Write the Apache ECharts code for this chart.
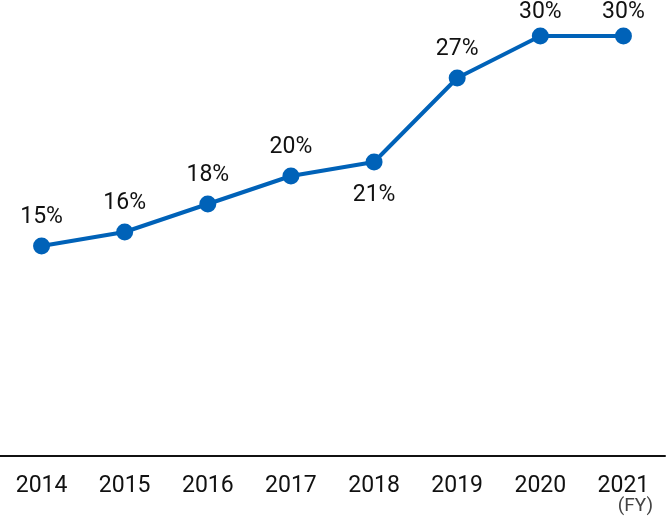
<!DOCTYPE html>
<html>
<head>
<meta charset="utf-8">
<script src="https://cdn.jsdelivr.net/npm/echarts@6/dist/echarts.min.js"></script>
<style>
html,body{margin:0;padding:0;background:#fff;}
#c{width:667px;height:525px;}
</style>
</head>
<body>
<div id="c"></div>
<script>
const categories = ['2014','2015','2016','2017','2018','2019','2020','2021'];
const values = [15,16,18,20,21,27,30,30];
const labelPositions = ['top','top','top','top','bottom','top','top','top'];
const labelDistances = [9,9,9,9,13,9,4,4];

const chart = echarts.init(document.getElementById('c'), null, {renderer:'canvas'});
chart.setOption({
  animation: false,
  grid: {left: 0, right: 2, top: 8, bottom: 69, containLabel: false},
  xAxis: {
    type: 'category',
    data: categories,
    boundaryGap: true,
    axisLine: {show: true, lineStyle: {color: '#111', width: 2}},
    axisTick: {show: false},
    axisLabel: {color: '#111', fontSize: 23, fontFamily: 'Roboto', margin: 19}
  },
  yAxis: {
    type: 'value',
    min: 0,
    max: 32,
    show: false,
    splitLine: {show: false}
  },
  series: [{
    type: 'line',
    data: values.map((v, i) => ({
      value: v,
      label: {position: labelPositions[i], distance: labelDistances[i]}
    })),
    symbol: 'circle',
    symbolSize: 17,
    lineStyle: {color: '#0062b8', width: 4},
    itemStyle: {color: '#0062b8'},
    label: {
      show: true,
      formatter: '{c}%',
      color: '#111',
      fontSize: 23,
      fontFamily: 'Roboto'
    }
  }],
  graphic: [{
    type: 'text',
    right: 14,
    top: 497,
    style: {text: '(FY)', fill: '#444', fontSize: 19, fontFamily: 'Roboto'}
  }]
});
</script>
</body>
</html>
